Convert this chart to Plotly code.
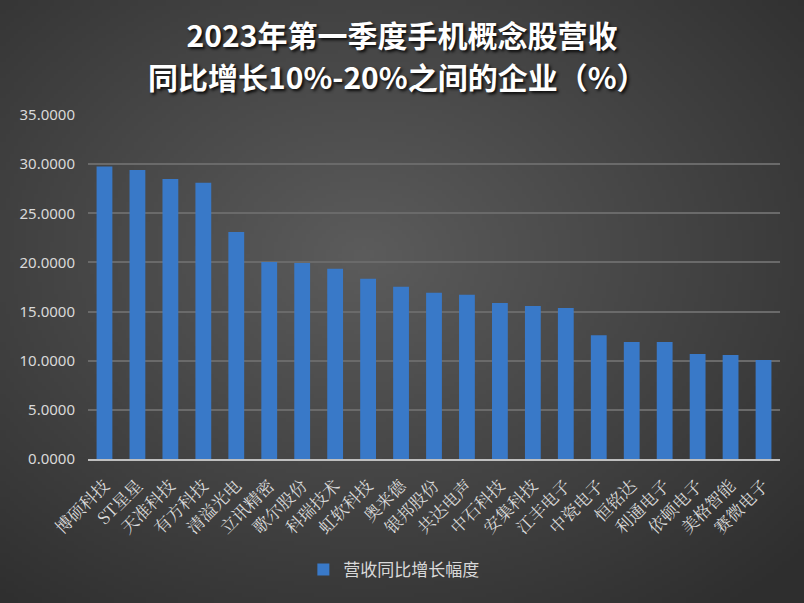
import base64, struct, zlib
import numpy as np
import plotly.graph_objects as go

companies = ["博硕科技", "ST星星", "天准科技", "有方科技", "清溢光电", "立讯精密", "歌尔股份",
             "科瑞技术", "虹软科技", "奥来德", "银邦股份", "共达电声", "中石科技", "安集科技",
             "江丰电子", "中瓷电子", "恒铭达", "利通电子", "依顿电子", "美格智能", "赛微电子"]
growth = [29.75, 29.40, 28.50, 28.10, 23.10, 20.04, 19.94, 19.36, 18.34, 17.52, 16.92,
          16.70, 15.87, 15.56, 15.36, 12.60, 11.90, 11.90, 10.68, 10.58, 10.07]
series_name = "营收同比增长幅度"
title_line1 = "<b>2023年第一季度手机概念股营收</b>"
title_line2 = "<b>同比增长10%-20%之间的企业（%）</b>"
y_ticks = [0, 5, 10, 15, 20, 25, 30, 35]


def gradient_png(w=201, h=151):
    yy, xx = np.mgrid[0:h, 0:w]
    cx, cy = w * 0.45, h * 0.42
    d = np.sqrt(((xx - cx) / (w * 0.75)) ** 2 + ((yy - cy) / (h * 0.75)) ** 2)
    d = np.clip(d, 0, 1)
    v = (92 - 46 * d).astype(np.uint8)
    raw = b"".join(b"\x00" + bytes(np.stack([row, row, row], axis=1).flatten()) for row in v)

    def chunk(t, data):
        c = struct.pack(">I", len(data)) + t + data
        return c + struct.pack(">I", zlib.crc32(t + data) & 0xffffffff)

    png = b"\x89PNG\r\n\x1a\n" + chunk(b"IHDR", struct.pack(">IIBBBBB", w, h, 8, 2, 0, 0, 0)) \
        + chunk(b"IDAT", zlib.compress(raw, 9)) + chunk(b"IEND", b"")
    return "data:image/png;base64," + base64.b64encode(png).decode()


W, H = 804, 603
ml, mr, mt, mb = 88, 24, 115, 144
pw, ph = W - ml - mr, H - mt - mb
title_font = dict(family="Noto Sans CJK SC", size=30, color="#ffffff",
                  shadow="2px 2px 3px rgba(0,0,0,0.85)")

fig = go.Figure()
fig.add_trace(go.Bar(
    x=companies, y=growth, name=series_name,
    marker=dict(color="#3979c8", line=dict(width=0)),
    showlegend=True,
))

fig.update_layout(
    width=W, height=H,
    margin=dict(l=ml, r=mr, t=mt, b=mb),
    paper_bgcolor="#404040",
    plot_bgcolor="rgba(0,0,0,0)",
    bargap=0.52,
    title=dict(
        text=title_line1, x=0.5, xanchor="center", y=1 - 36 / H, yanchor="middle",
        xref="container", yref="container", font=title_font,
    ),
    annotations=[dict(
        text=title_line2, x=(397 - ml) / pw, xanchor="center", y=(H - 76 - mb) / ph, yanchor="middle",
        xref="paper", yref="paper", showarrow=False, font=title_font,
    )],
    xaxis=dict(
        tickangle=-45, tickfont=dict(family="Noto Serif CJK SC, Noto Sans CJK SC", size=17, color="#d9d9d9"),
        showgrid=False, showline=True, linecolor="#bfbfbf", linewidth=2, ticks="",
        ticklabelstandoff=8,
    ),
    yaxis=dict(
        range=[0, 35], tickvals=y_ticks, tickformat=".4f",
        tickfont=dict(family="Noto Sans, DejaVu Sans", size=15, color="#d9d9d9"),
        showgrid=True, gridcolor="#6a6a6a", gridwidth=1.5, zeroline=False, showline=False,
        ticks="", ticklen=0, ticklabelstandoff=12,
    ),
    legend=dict(
        orientation="h", x=0.442, xanchor="center", y=(0 - (570 - (H - mb))) / ph, yanchor="middle",
        font=dict(family="Noto Sans CJK SC", size=17, color="#d9d9d9"),
        bgcolor="rgba(0,0,0,0)",
    ),
    images=[dict(
        source=gradient_png(), xref="paper", yref="paper",
        x=-ml / pw, y=(H - mb) / ph, sizex=W / pw, sizey=H / ph,
        xanchor="left", yanchor="top", sizing="stretch", layer="below",
    )],
)

fig.write_html("out.html", config={"displayModeBar": False},
               post_script="document.body.style.margin='0';document.body.style.overflow='hidden';")
